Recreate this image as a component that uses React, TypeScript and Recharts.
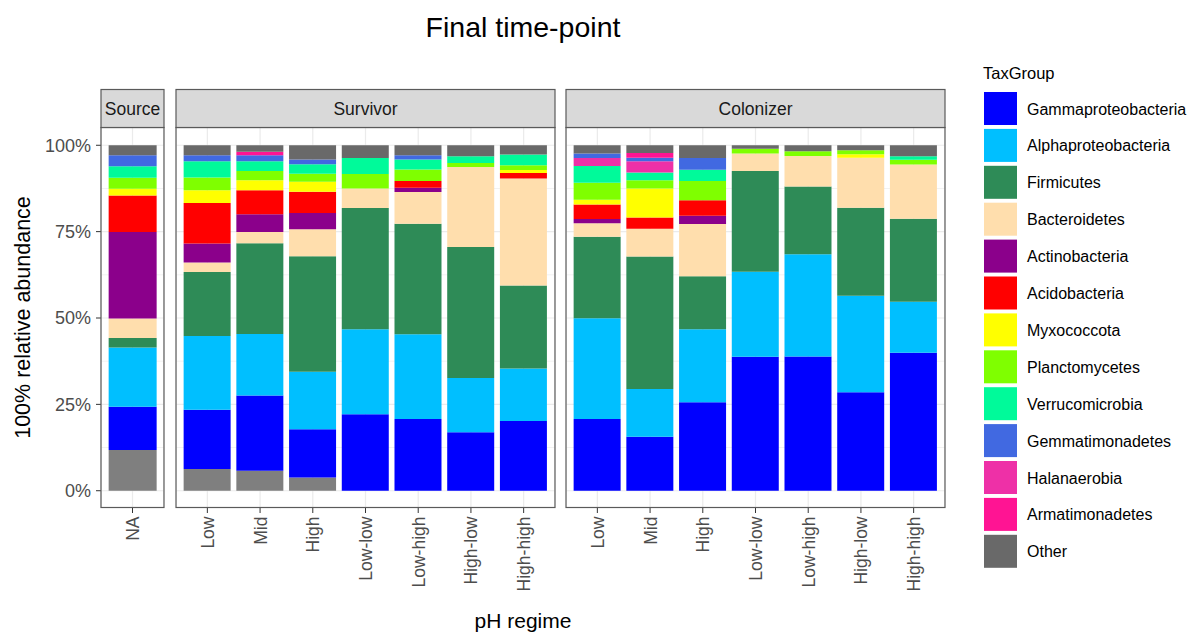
import React from "react";
import { BarChart, Bar, XAxis, YAxis, CartesianGrid } from "recharts";

// ---------- data ----------
const panelNames = ["Source", "Survivor", "Colonizer"];
const sourceCats = ["NA"];
const regimeCats = ["Low", "Mid", "High", "Low-low", "Low-high", "High-low", "High-high"];

const legendTaxa = [
  "Gammaproteobacteria",
  "Alphaproteobacteria",
  "Firmicutes",
  "Bacteroidetes",
  "Actinobacteria",
  "Acidobacteria",
  "Myxococcota",
  "Planctomycetes",
  "Verrucomicrobia",
  "Gemmatimonadetes",
  "Halanaerobia",
  "Armatimonadetes",
  "Other",
];
const taxColors = [
  "#0000FF", "#00BFFF", "#2E8B57", "#FFDEAD", "#8B008B", "#FF0000", "#FFFF00",
  "#7FFF00", "#00FA9A", "#4169E1", "#EE30A7", "#FF1493", "#696969",
];
const unassignedColor = "#7F7F7F";

// bar order: Source NA | Survivor Low, Mid, High, Low-low, Low-high, High-low, High-high | Colonizer same
const unassigned = [11.8, 6.3, 5.8, 3.8, 0, 0, 0, 0, 0, 0, 0, 0, 0, 0, 0];
const gammaproteobacteria = [12.5, 17.1, 21.7, 13.9, 22.1, 20.7, 16.9, 20.2, 20.7, 15.6, 25.7, 38.7, 38.7, 28.4, 40.0];
const alphaproteobacteria = [17.1, 21.3, 17.7, 16.6, 24.5, 24.5, 15.7, 15.2, 29.1, 13.8, 21.2, 24.5, 29.5, 27.8, 14.8];
const firmicutes = [2.8, 18.5, 26.2, 33.3, 35.0, 31.9, 37.9, 24.1, 23.5, 38.3, 15.4, 29.1, 19.5, 25.4, 24.1];
const bacteroidetes = [5.6, 2.7, 3.3, 7.8, 5.6, 9.2, 23.1, 31.0, 3.9, 8.0, 15.2, 5.0, 8.8, 14.4, 15.7];
const actinobacteria = [25.0, 5.5, 5.1, 4.7, 0, 1.2, 0, 0, 1.2, 0, 2.4, 0, 0, 0, 0];
const acidobacteria = [10.6, 11.7, 6.9, 6.1, 0, 2.0, 0, 1.6, 4.2, 3.2, 4.5, 0, 0, 0, 0];
const myxococcota = [1.9, 3.7, 2.9, 2.9, 0, 0, 0, 0.8, 1.4, 8.4, 0, 0, 0, 1.0, 0];
const planctomycetes = [3.2, 3.7, 2.7, 2.3, 4.2, 3.3, 1.2, 1.4, 4.9, 2.4, 5.6, 1.4, 1.4, 1.2, 1.4];
const verrucomicrobia = [3.3, 4.7, 2.8, 2.7, 4.6, 2.9, 1.9, 3.1, 4.8, 2.2, 3.3, 0, 0, 0, 1.0];
const gemmatimonadetes = [3.2, 1.7, 1.7, 1.4, 0, 1.2, 0, 0, 1.3, 1.0, 3.4, 0, 0, 0, 0];
const halanaerobia = [0, 0, 0, 0, 0, 0, 0, 0, 2.3, 3.3, 0, 0, 0, 0, 0];
const armatimonadetes = [0, 0, 1.0, 0, 0, 0, 0, 0, 0, 1.4, 0, 0, 0, 0, 0];
const other = [2.9, 2.9, 1.9, 4.1, 3.7, 2.9, 3.2, 2.7, 2.4, 2.2, 3.7, 1.0, 1.7, 1.4, 3.2];

const yTicks = [0, 25, 50, 75, 100];
const yMinor = [12.5, 37.5, 62.5, 87.5];

// stacking order, bottom to top
const stackOrder = [
  "Unassigned", "Gammaproteobacteria", "Alphaproteobacteria", "Firmicutes", "Bacteroidetes",
  "Actinobacteria", "Acidobacteria", "Myxococcota", "Planctomycetes", "Verrucomicrobia",
  "Halanaerobia", "Gemmatimonadetes", "Armatimonadetes", "Other",
];

// ---------- table built from the arrays ----------
const seriesKeys = ["Unassigned", ...legendTaxa];
const seriesColors = [unassignedColor, ...taxColors];
const seriesValues = [
  unassigned, gammaproteobacteria, alphaproteobacteria, firmicutes, bacteroidetes,
  actinobacteria, acidobacteria, myxococcota, planctomycetes, verrucomicrobia,
  gemmatimonadetes, halanaerobia, armatimonadetes, other,
];

function buildRows(start: number, cats: string[]) {
  return cats.map((c, i) => {
    const idx = start + i;
    const total = seriesValues.reduce((s, arr) => s + arr[idx], 0);
    const row: any = { cat: c };
    seriesKeys.forEach((k, j) => {
      row[k] = (seriesValues[j][idx] / total) * 100;
    });
    return row;
  });
}

const sourceRows = buildRows(0, sourceCats);
const survivorRows = buildRows(1, regimeCats);
const colonizerRows = buildRows(8, regimeCats);

// ---------- layout ----------
const FONT = "'Liberation Sans', Arial, sans-serif";
const PANEL_TOP = 127.5;
const PANEL_H = 380;
const STRIP_TOP = 89.5;
const STRIP_H = 38;
const Y_AXIS_W = 101;
const X_AXIS_H = 120;
const panels = [
  { name: panelNames[0], rows: sourceRows, left: 101, width: 63 },
  { name: panelNames[1], rows: survivorRows, left: 176, width: 379 },
  { name: panelNames[2], rows: colonizerRows, left: 566, width: 379 },
];

const XTick = (props: any) => {
  const { x, y, payload } = props;
  return (
    <text
      transform={`translate(${x + 6.5}, ${y + 1.5}) rotate(-90)`}
      textAnchor="end"
      fontSize={17.5}
      fill="#4D4D4D"
      fontFamily={FONT}
    >
      {payload.value}
    </text>
  );
};

function Panel({ rows, left, width, showY }: any) {
  const yW = showY ? Y_AXIS_W : 0;
  return (
    <div style={{ position: "absolute", left: left - yW, top: PANEL_TOP }}>
      <BarChart
        width={width + yW}
        height={PANEL_H + X_AXIS_H}
        data={rows}
        margin={{ top: 0, right: 0, bottom: 0, left: 0 }}
        barCategoryGap="5%"
      >
        <CartesianGrid horizontalValues={yMinor} vertical={false} stroke="#F2F2F2" strokeWidth={1} />
        <CartesianGrid horizontalValues={yTicks} stroke="#EBEBEB" strokeWidth={1.2} />
        <XAxis
          dataKey="cat"
          height={X_AXIS_H}
          padding={{ left: 5, right: 5 }}
          tickSize={5}
          tickLine={{ stroke: "#333333" }}
          axisLine={false}
          interval={0}
          tick={<XTick />}
        />
        <YAxis
          hide={!showY}
          width={yW}
          domain={[-5, 105]}
          ticks={yTicks}
          allowDataOverflow
          tickFormatter={(v: number) => `${v}%`}
          tickSize={5}
          tickMargin={5}
          tickLine={{ stroke: "#333333" }}
          axisLine={false}
          tick={{ fontSize: 18, fill: "#4D4D4D", fontFamily: FONT }}
        />
        {stackOrder.map((k) => {
          const j = seriesKeys.indexOf(k);
          return <Bar key={k} dataKey={k} stackId="a" fill={seriesColors[j]} isAnimationActive={false} />;
        })}
      </BarChart>
    </div>
  );
}

export default function App() {
  return (
    <div style={{ position: "absolute", left: 0, top: 0, width: 1199, height: 634, background: "#fff", fontFamily: FONT }}>
      {panels.map((p, i) => (
        <Panel key={p.name} rows={p.rows} left={p.left} width={p.width} showY={i === 0} />
      ))}
      <svg
        width={1199}
        height={634}
        style={{ position: "absolute", left: 0, top: 0, pointerEvents: "none" }}
        fontFamily={FONT}
      >
        <text x={523} y={37} textAnchor="middle" fontSize={28.5} fill="#000">Final time-point</text>
        <text transform="translate(29.5, 317.5) rotate(-90)" textAnchor="middle" fontSize={21.5} fill="#000">
          100% relative abundance
        </text>
        <text x={523} y={628} textAnchor="middle" fontSize={21} fill="#000">pH regime</text>
        {panels.map((p) => (
          <g key={p.name}>
            <rect x={p.left} y={PANEL_TOP} width={p.width} height={PANEL_H} fill="none" stroke="#5a5a5a" strokeWidth={1.2} />
            <rect x={p.left} y={STRIP_TOP} width={p.width} height={STRIP_H} fill="#D9D9D9" stroke="#5a5a5a" strokeWidth={1.2} />
            <text x={p.left + p.width / 2} y={STRIP_TOP + STRIP_H / 2 + 6.5} textAnchor="middle" fontSize={17.5} fill="#1A1A1A">
              {p.name}
            </text>
          </g>
        ))}
        <text x={983} y={79} fontSize={16.5} fill="#000">TaxGroup</text>
        {legendTaxa.map((t, i) => {
          const top = 92 + i * 36.9;
          return (
            <g key={t}>
              <rect x={984} y={top} width={33} height={33} fill={taxColors[i]} />
              <text x={1027} y={top + 16.5 + 6} fontSize={16} fill="#000">{t}</text>
            </g>
          );
        })}
      </svg>
    </div>
  );
}
